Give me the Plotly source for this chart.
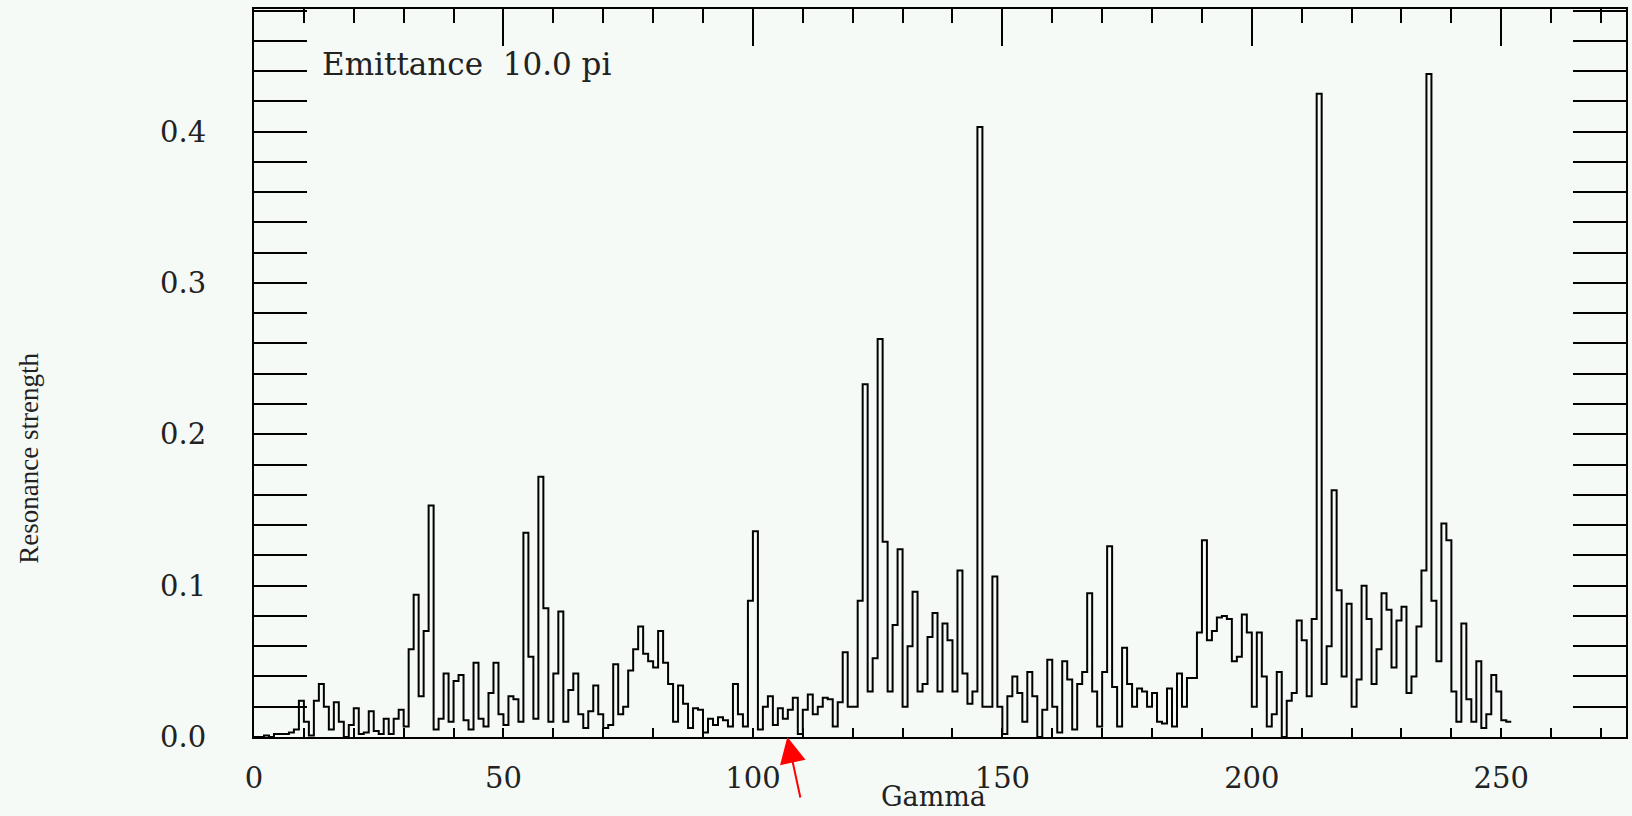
import plotly.graph_objects as go

# Resonance strength per unit Gamma bin (bin k covers [k, k+1))
strength = [
    0.0, 0.0, 0.001, 0.0, 0.002, 0.002, 0.002, 0.003, 0.005, 0.024,
    0.01, 0.001, 0.024, 0.035, 0.02, 0.005, 0.023, 0.01, 0.0, 0.008,
    0.019, 0.002, 0.003, 0.017, 0.004, 0.002, 0.012, 0.002, 0.012, 0.018,
    0.007, 0.058, 0.094, 0.027, 0.07, 0.153, 0.005, 0.012, 0.042, 0.01,
    0.037, 0.041, 0.011, 0.005, 0.049, 0.012, 0.007, 0.029, 0.049, 0.015,
    0.008, 0.027, 0.025, 0.01, 0.135, 0.053, 0.012, 0.172, 0.085, 0.01,
    0.042, 0.083, 0.01, 0.031, 0.042, 0.015, 0.006, 0.017, 0.034, 0.015,
    0.006, 0.008, 0.048, 0.015, 0.02, 0.044, 0.058, 0.073, 0.055, 0.05,
    0.046, 0.07, 0.049, 0.035, 0.01, 0.034, 0.022, 0.006, 0.019, 0.018,
    0.003, 0.012, 0.008, 0.013, 0.011, 0.007, 0.035, 0.015, 0.007, 0.09,
    0.136, 0.005, 0.02, 0.027, 0.008, 0.019, 0.012, 0.018, 0.026, 0.002,
    0.018, 0.028, 0.015, 0.02, 0.026, 0.025, 0.007, 0.023, 0.056, 0.02,
    0.02, 0.09, 0.233, 0.03, 0.052, 0.263, 0.129, 0.03, 0.074, 0.124,
    0.02, 0.06, 0.096, 0.03, 0.035, 0.066, 0.082, 0.03, 0.075, 0.064,
    0.03, 0.11, 0.042, 0.022, 0.03, 0.403, 0.02, 0.02, 0.106, 0.02,
    0.002, 0.027, 0.04, 0.029, 0.01, 0.043, 0.027, 0.0, 0.018, 0.051,
    0.02, 0.003, 0.05, 0.038, 0.005, 0.035, 0.043, 0.095, 0.03, 0.007,
    0.043, 0.126, 0.033, 0.007, 0.059, 0.035, 0.02, 0.032, 0.03, 0.02,
    0.029, 0.01, 0.009, 0.032, 0.007, 0.042, 0.02, 0.039, 0.039, 0.069,
    0.13, 0.064, 0.07, 0.079, 0.08, 0.078, 0.05, 0.053, 0.081, 0.069,
    0.02, 0.069, 0.04, 0.007, 0.015, 0.043, 0.0, 0.024, 0.029, 0.077,
    0.064, 0.027, 0.078, 0.425, 0.035, 0.06, 0.163, 0.097, 0.04, 0.088,
    0.02, 0.038, 0.1, 0.078, 0.035, 0.058, 0.095, 0.084, 0.046, 0.077,
    0.086, 0.029, 0.04, 0.073, 0.11, 0.438, 0.09, 0.05, 0.141, 0.13,
    0.03, 0.01, 0.075, 0.025, 0.01, 0.05, 0.006, 0.015, 0.041, 0.03,
    0.011, 0.01,
]
gamma_start = 0
x_tick_labels = ["0", "50", "100", "150", "200", "250"]
x_tick_vals = [0, 50, 100, 150, 200, 250]
annotation_text = "Emittance\u00a0\u00a010.0 pi"
x_title = "Gamma"
y_title = "Resonance strength"

gamma = [gamma_start + i for i in range(len(strength) + 1)]
values = strength + [strength[-1]]

BG = "#f5faf7"
SERIF = "DejaVu Serif"

fig = go.Figure()
fig.add_trace(go.Scatter(
    x=gamma, y=values, mode="lines", line=dict(color="black", width=2, shape="hv"),
    showlegend=False, hoverinfo="skip",
))

fig.update_layout(
    width=1632, height=816,
    margin=dict(l=254, r=4, t=9, b=79),
    paper_bgcolor=BG, plot_bgcolor=BG,
    font=dict(family=SERIF, size=29, color="#222"),
    xaxis=dict(
        range=[0, 275], showline=True, linecolor="black", linewidth=2,
        ticks="inside", ticklen=9, tickwidth=2, tickcolor="black",
        tickvals=x_tick_vals, ticktext=x_tick_labels,
        minor=dict(dtick=10, tick0=0, ticks="inside", ticklen=9, tickwidth=2, tickcolor="black"),
        showgrid=False, zeroline=False, mirror=False,
        ticklabelstandoff=14,
        tickfont=dict(family=SERIF, size=29, color="#222"),
    ),
    xaxis2=dict(
        range=[0, 275], overlaying="x", side="top", anchor="y",
        showline=True, linecolor="black", linewidth=2,
        ticks="inside", ticklen=37, tickwidth=2, tickcolor="black", dtick=50, tick0=0,
        minor=dict(dtick=10, tick0=0, ticks="inside", ticklen=14, tickwidth=2, tickcolor="black"),
        showticklabels=False, showgrid=False, zeroline=False,
    ),
    yaxis=dict(
        range=[0, 0.481], showline=True, linecolor="black", linewidth=2,
        ticks="inside", ticklen=53, tickwidth=2, tickcolor="black",
        dtick=0.1, tick0=0, tickformat=".1f",
        minor=dict(dtick=0.02, tick0=0, ticks="inside", ticklen=20, tickwidth=2, tickcolor="black"),
        mirror="allticks", showgrid=False, zeroline=False,
        ticklabelstandoff=40,
        tickfont=dict(family=SERIF, size=29, color="#222"),
    ),
    annotations=[
        dict(text=annotation_text, xref="paper", yref="paper", x=0.048, y=0.9238,
             xanchor="left", yanchor="middle", showarrow=False,
             font=dict(family=SERIF, size=31, color="#222")),
        dict(text=x_title, xref="paper", yref="paper", x=0.4955, y=-0.0824,
             xanchor="center", yanchor="middle", showarrow=False,
             font=dict(family=SERIF, size=27, color="#222")),
        dict(text=y_title, xref="paper", yref="paper", x=-0.1638, y=0.3826,
             xanchor="center", yanchor="middle", showarrow=False, textangle=-90,
             font=dict(family="Liberation Serif", size=27, color="#222")),
        dict(text=" ", xref="x", yref="y", x=106.9, y=0, showarrow=True,
             ax=17, ay=90, axref="pixel", ayref="pixel",
             arrowcolor="#ff0000", arrowwidth=2, arrowhead=2, arrowsize=2.6),
    ],
)
fig.add_trace(go.Scatter(x=[None], y=[None], xaxis="x2", showlegend=False, hoverinfo="skip"))

fig.write_html("out.html")
